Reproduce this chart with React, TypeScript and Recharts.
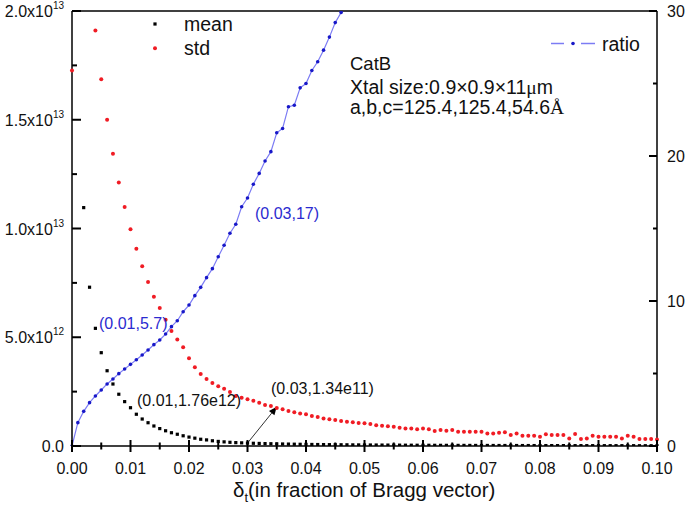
import { ComposedChart, Line, XAxis, YAxis, ReferenceLine } from "recharts";

// delta_t (fraction of Bragg vector)
const delta = [
  0, 0.001, 0.002, 0.003, 0.004, 0.005, 0.006, 0.007, 0.008, 0.009,
  0.01, 0.011, 0.012, 0.013, 0.014, 0.015, 0.016, 0.017, 0.018, 0.019,
  0.02, 0.021, 0.022, 0.023, 0.024, 0.025, 0.026, 0.027, 0.028, 0.029,
  0.03, 0.031, 0.032, 0.033, 0.034, 0.035, 0.036, 0.037, 0.038, 0.039,
  0.04, 0.041, 0.042, 0.043, 0.044, 0.045, 0.046, 0.047, 0.048, 0.049,
  0.05, 0.051, 0.052, 0.053, 0.054, 0.055, 0.056, 0.057, 0.058, 0.059,
  0.06, 0.061, 0.062, 0.063, 0.064, 0.065, 0.066, 0.067, 0.068, 0.069,
  0.07, 0.071, 0.072, 0.073, 0.074, 0.075, 0.076, 0.077, 0.078, 0.079,
  0.08, 0.081, 0.082, 0.083, 0.084, 0.085, 0.086, 0.087, 0.088, 0.089,
  0.09, 0.091, 0.092, 0.093, 0.094, 0.095, 0.096, 0.097, 0.098, 0.099,
  0.1,
];

// mean, in units of 1e12
const mean = [
  45, 22, 10.96, 7.3, 5.41, 4.29, 3.46, 2.85, 2.38, 2.04,
  1.76, 1.46, 1.24, 1.07, 0.92, 0.8, 0.7, 0.61, 0.54, 0.47,
  0.41, 0.36, 0.31, 0.28, 0.24, 0.21, 0.19, 0.17, 0.155, 0.145,
  0.134, 0.125, 0.118, 0.11, 0.104, 0.098, 0.093, 0.088, 0.083, 0.079,
  0.075, 0.071, 0.068, 0.065, 0.062, 0.059, 0.057, 0.055, 0.052, 0.05,
  0.048, 0.046, 0.045, 0.043, 0.042, 0.04, 0.039, 0.037, 0.036, 0.035,
  0.034, 0.033, 0.032, 0.031, 0.03, 0.029, 0.028, 0.028, 0.027, 0.026,
  0.025, 0.025, 0.024, 0.023, 0.023, 0.022, 0.022, 0.021, 0.021, 0.02,
  0.02, 0.019, 0.019, 0.018, 0.018, 0.018, 0.017, 0.017, 0.016, 0.016,
  0.016, 0.015, 0.015, 0.015, 0.014, 0.014, 0.014, 0.013, 0.013, 0.013,
  0.012,
];

// std, in units of 1e12
const std = [
  17.26, 28, 24, 21, 19.1, 16.86, 15.0, 13.44, 12.11, 10.99,
  9.96, 9.07, 8.26, 7.54, 6.86, 6.34, 5.81, 5.29, 4.9, 4.54,
  4.03, 3.62, 3.31, 3.08, 2.9, 2.75, 2.63, 2.48, 2.3, 2.22,
  2.15, 2.08, 1.99, 1.89, 1.84, 1.75, 1.69, 1.61, 1.55, 1.5,
  1.46, 1.38, 1.33, 1.27, 1.23, 1.2, 1.15, 1.12, 1.09, 1.06,
  1.05, 1.01, 0.95, 0.93, 0.91, 0.89, 0.84, 0.81, 0.8, 0.77,
  0.81, 0.77, 0.69, 0.74, 0.7, 0.74, 0.66, 0.66, 0.66, 0.66,
  0.66, 0.58, 0.58, 0.61, 0.63, 0.51, 0.58, 0.47, 0.47, 0.47,
  0.43, 0.54, 0.51, 0.51, 0.51, 0.35, 0.55, 0.32, 0.35, 0.47,
  0.43, 0.43, 0.43, 0.43, 0.35, 0.47, 0.43, 0.32, 0.32, 0.32,
  0.3,
];

// std/mean ratio (right axis), leaves the top of the plot after 0.046
const ratio = [
  0, 1.61, 2.39, 2.99, 3.45, 3.86, 4.28, 4.62, 4.99, 5.31,
  5.63, 5.95, 6.28, 6.62, 6.99, 7.31, 7.72, 8.23, 8.64, 9.26,
  9.72, 10.37, 10.94, 11.61, 12.23, 13.05, 13.84, 14.67, 15.29, 16.5,
  17.1, 18.05, 18.8, 19.66, 20.3, 21.6, 21.9, 23.4, 23.5, 24.7,
  25.0, 25.9, 26.5, 27.3, 28.2, 29.2, 29.9, 31.0,
];

const xTicks = [
  0, 0.005, 0.01, 0.015, 0.02, 0.025, 0.03, 0.035, 0.04, 0.045, 0.05,
  0.055, 0.06, 0.065, 0.07, 0.075, 0.08, 0.085, 0.09, 0.095, 0.1,
];
const leftTicks = [0, 2.5, 5, 7.5, 10, 12.5, 15, 17.5, 20];
const leftLabels: Record<string, [string, string]> = {
  "0": ["0.0", ""],
  "5": ["5.0x10", "12"],
  "10": ["1.0x10", "13"],
  "15": ["1.5x10", "13"],
  "20": ["2.0x10", "13"],
};
const rightTicks = [0, 5, 10, 15, 20, 25, 30];

const data = delta.map((d, i) => ({
  d,
  mean: mean[i],
  std: std[i],
  ratio: ratio[i],
}));

const RED = "#f01c24";
const BLUE_DOT = "#1818c8";
const BLUE_LINE = "#7c7cf4";
const BLUE_TEXT = "#2b2bd0";

const XTick = ({ x, y, payload }: any) => {
  const major = Math.round(payload.value * 1000) % 10 === 0;
  const h = major ? 6 : 3.5;
  return (
    <g>
      <path d={`M${x},${y - h}V${y + h}`} stroke="#000" strokeWidth={2} fill="none" />
      {major && (
        <text x={x} y={y + 28} textAnchor="middle" fontSize={16} fill="#111">
          {payload.value.toFixed(2)}
        </text>
      )}
    </g>
  );
};

const LeftTick = ({ x, y, payload }: any) => {
  const lab = leftLabels[String(payload.value)];
  return (
    <g>
      <path d={`M${x},${y}H${x + (lab ? 9 : 5)}`} stroke="#000" strokeWidth={2} fill="none" />
      {lab && (
        <text x={x - 8} y={y + 6} textAnchor="end" fontSize={16} fill="#111">
          {lab[0]}
          {lab[1] && (
            <tspan dy={-8} fontSize={10}>
              {lab[1]}
            </tspan>
          )}
        </text>
      )}
    </g>
  );
};

const RightTick = ({ x, y, payload }: any) => {
  const major = payload.value % 10 === 0;
  return (
    <g>
      <path d={`M${x},${y}H${x - (major ? 8 : 4)}`} stroke="#000" strokeWidth={2} fill="none" />
      {major && (
        <text x={x + 10} y={y + 6} textAnchor="start" fontSize={16} fill="#111">
          {payload.value}
        </text>
      )}
    </g>
  );
};

const MeanDot = (p: any) => {
  if (p.cx == null || p.cy == null) return <g key={p.index} />;
  return <rect key={p.index} x={p.cx - 1.6} y={p.cy - 1.6} width={3.2} height={3.2} fill="#000" />;
};

const Arrow = (p: any) => {
  const { x1, y1, x2, y2 } = p;
  const a = Math.atan2(y2 - y1, x2 - x1);
  const L = 8;
  const W = 3.5;
  const bx = x2 - L * Math.cos(a);
  const by = y2 - L * Math.sin(a);
  const pts = `${x2},${y2} ${bx + W * Math.sin(a)},${by - W * Math.cos(a)} ${bx - W * Math.sin(a)},${by + W * Math.cos(a)}`;
  return (
    <g>
      <line x1={x1} y1={y1} x2={bx} y2={by} stroke="#333" strokeWidth={1} />
      <polygon points={pts} fill="#000" />
    </g>
  );
};

export default function App() {
  return (
    <div
      style={{
        position: "absolute",
        left: 0,
        top: 0,
        width: 687,
        height: 514,
        background: "#fff",
        fontFamily: "'Liberation Sans', Arial, sans-serif",
      }}
    >
      <ComposedChart
        width={687}
        height={514}
        data={data}
        margin={{ top: 11, right: 0, bottom: 0, left: 0 }}
      >
        <XAxis
          dataKey="d"
          type="number"
          domain={[0, 0.1]}
          ticks={xTicks}
          interval={0}
          height={68}
          tickSize={0}
          tickMargin={0}
          tickLine={false}
          tick={XTick}
          axisLine={{ stroke: "#000", strokeWidth: 1.5 }}
        />
        <YAxis
          yAxisId="l"
          orientation="left"
          domain={[0, 20]}
          allowDataOverflow
          ticks={leftTicks}
          interval={0}
          width={72}
          tickSize={0}
          tickMargin={0}
          tickLine={false}
          tick={LeftTick}
          axisLine={{ stroke: "#000", strokeWidth: 1.5 }}
        />
        <YAxis
          yAxisId="r"
          orientation="right"
          domain={[0, 30]}
          allowDataOverflow
          ticks={rightTicks}
          interval={0}
          width={30}
          tickSize={0}
          tickMargin={0}
          tickLine={false}
          tick={RightTick}
          axisLine={{ stroke: "#000", strokeWidth: 1.5 }}
        />
        <ReferenceLine yAxisId="l" y={20} stroke="#000" strokeWidth={1.5} />
        <Line
          yAxisId="r"
          dataKey="ratio"
          type="linear"
          stroke={BLUE_LINE}
          strokeWidth={1.2}
          dot={{ r: 1.8, fill: BLUE_DOT, stroke: "none" }}
          isAnimationActive={false}
        />
        <Line
          yAxisId="l"
          dataKey="std"
          stroke="none"
          dot={{ r: 2, fill: RED, stroke: "none" }}
          isAnimationActive={false}
        />
        <Line
          yAxisId="l"
          dataKey="mean"
          stroke="none"
          dot={MeanDot}
          isAnimationActive={false}
        />
        <ReferenceLine
          yAxisId="l"
          segment={[
            { x: 0.03, y: 0.134 },
            { x: 0.035, y: 1.8 },
          ]}
          ifOverflow="visible"
          shape={Arrow}
        />
      </ComposedChart>
      <svg
        width={687}
        height={514}
        style={{ position: "absolute", left: 0, top: 0, pointerEvents: "none" }}
      >
        {/* legend */}
        <rect x={153.4} y={22.4} width={3.2} height={3.2} fill="#000" />
        <text x={184} y={31} fontSize={19.5} fill="#111">mean</text>
        <circle cx={155} cy={48.3} r={2} fill={RED} />
        <text x={184} y={55} fontSize={19.5} fill="#111">std</text>
        <line x1={551} x2={564} y1={43.5} y2={43.5} stroke={BLUE_LINE} strokeWidth={1.5} />
        <circle cx={573} cy={43.5} r={1.8} fill={BLUE_DOT} />
        <line x1={581} x2={595} y1={43.5} y2={43.5} stroke={BLUE_LINE} strokeWidth={1.5} />
        <text x={602} y={50.5} fontSize={19.5} fill="#111">ratio</text>

        {/* sample info */}
        <text x={350} y={70} fontSize={18.5} fill="#111">CatB</text>
        <text x={350} y={94} fontSize={19.5} fill="#111">
          Xtal size:0.9×0.9×11<tspan fontFamily="'Liberation Serif', serif">μ</tspan>m
        </text>
        <text x={350} y={114} fontSize={19.5} fill="#111">
          a,b,c=125.4,125.4,54.6<tspan fontFamily="'Liberation Serif', serif">Å</tspan>
        </text>

        {/* point annotations */}
        <text x={255} y={219} fontSize={16} fill={BLUE_TEXT}>(0.03,17)</text>
        <text x={99} y={329} fontSize={16} fill={BLUE_TEXT}>(0.01,5.7)</text>
        <text x={137} y={406} fontSize={16} fill="#111">(0.01,1.76e12)</text>
        <text x={271} y={394} fontSize={16} fill="#111">(0.03,1.34e11)</text>

        {/* x axis title */}
        <text x={233} y={497} fontSize={20.5} fill="#111">
          δ<tspan dy={5} fontSize={13}>t</tspan>
          <tspan dy={-5}>(in fraction of Bragg vector)</tspan>
        </text>
      </svg>
    </div>
  );
}
